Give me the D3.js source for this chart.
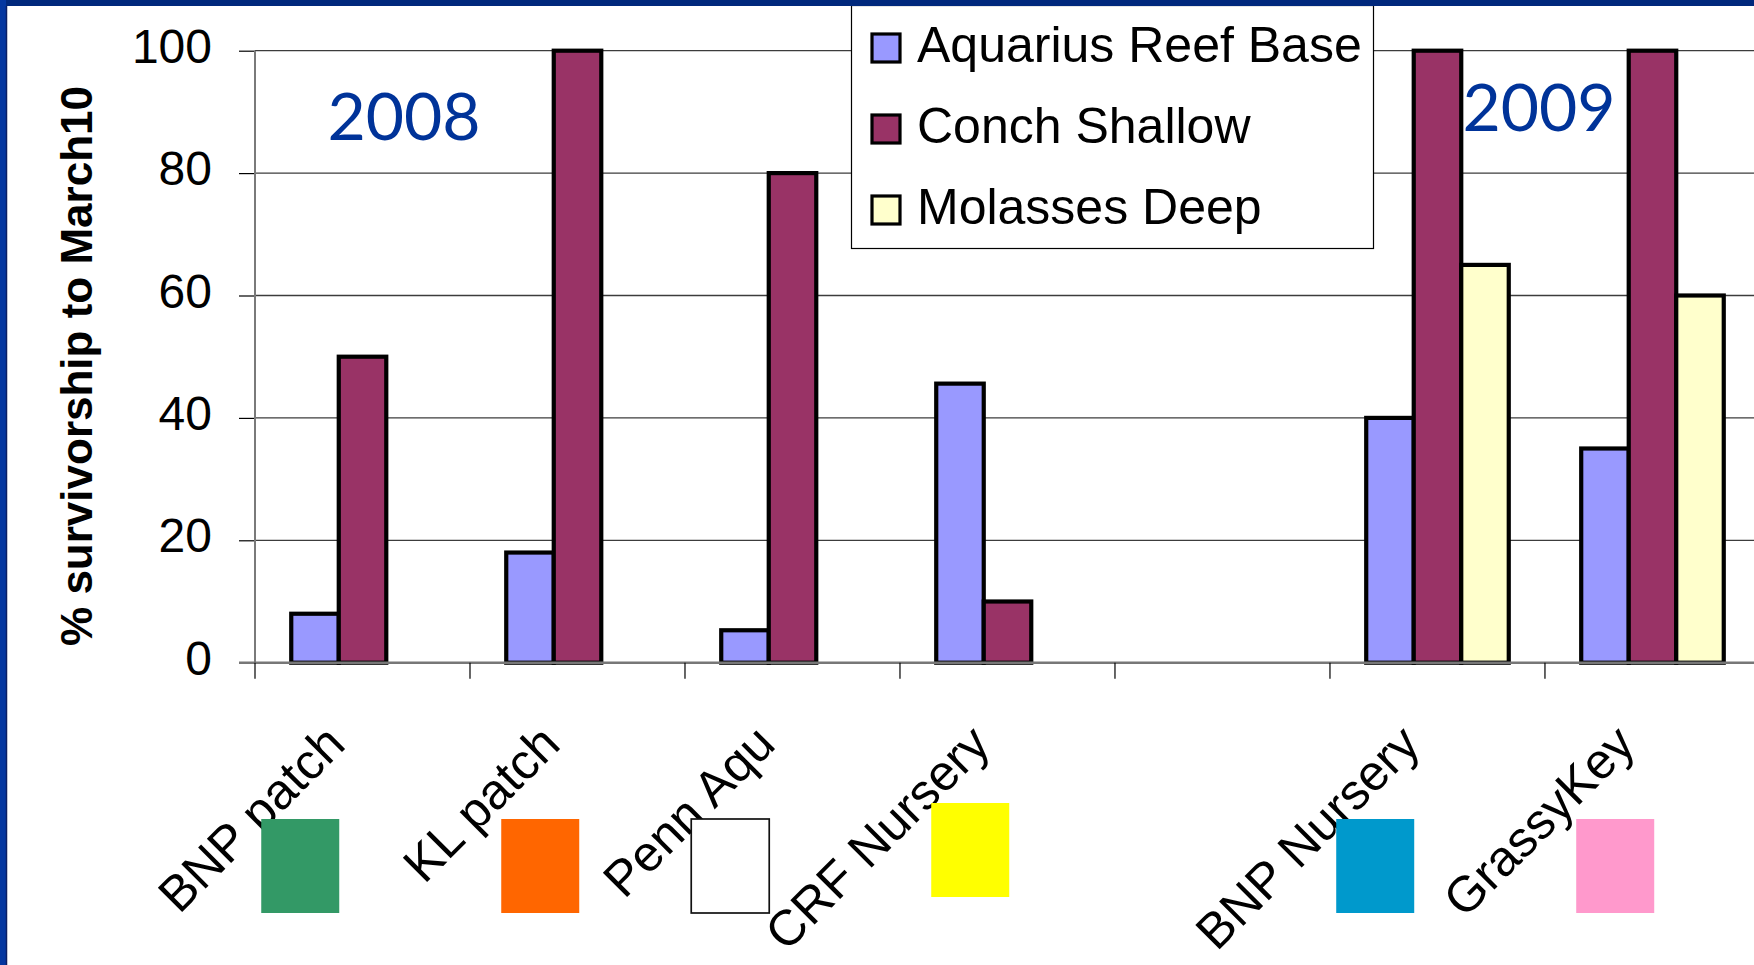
<!DOCTYPE html>
<html>
<head>
<meta charset="utf-8">
<script src="https://cdn.jsdelivr.net/npm/d3@7"></script>
<style>
  html, body { margin: 0; padding: 0; background: #fff; }
  svg { display: block; }
</style>
</head>
<body>
<svg id="chart" width="1754" height="965"></svg>
<script>
// ---- data ----
const sites = ["BNP patch", "KL patch", "Penn Aqu", "CRF Nursery", "", "BNP Nursery", "GrassyKey"];
const seriesNames = ["Aquarius Reef Base", "Conch Shallow", "Molasses Deep"];
const aquariusReefBase = [8, 18, 5.3, 45.6, null, 40, 35];
const conchShallow = [50, 100, 80, 10, null, 100, 100];
const molassesDeep = [null, null, null, null, null, 65, 60];
const yTicks = [0, 20, 40, 60, 80, 100];
const yearLabels = ["2008", "2009"];
const siteSwatchColors = ["#339966", "#FF6600", "#FFFFFF", "#FFFF00", null, "#0099CC", "#FF99CC"];

// ---- styling ----
const seriesColors = ["#9999FF", "#993366", "#FFFFCC"];
const FONT = "'Liberation Sans', Arial, Helvetica, sans-serif";
const W = 1754, H = 965;
const plot = { left: 255, right: 1760, top: 50.7, bottom: 662.7 };

const svg = d3.select("#chart");
svg.append("rect").attr("width", W).attr("height", H).attr("fill", "#fff");

const seriesValues = [aquariusReefBase, conchShallow, molassesDeep];

const x0 = d3.scaleBand()
  .domain(sites)
  .range([plot.left, plot.right])
  .paddingInner(0.337)
  .paddingOuter(0.1686);

const x1 = d3.scaleBand()
  .domain(seriesNames)
  .range([0, x0.bandwidth()]);

const y = d3.scaleLinear().domain([0, 100]).range([plot.bottom, plot.top]);

// horizontal gridlines
svg.append("g")
  .selectAll("line")
  .data(yTicks.filter(t => t > 0))
  .join("line")
  .attr("x1", plot.left).attr("x2", W)
  .attr("y1", d => y(d)).attr("y2", d => y(d))
  .attr("stroke", "#3c3c3c")
  .attr("stroke-width", 1.3);

// bars
const barData = [];
sites.forEach((site, i) => {
  seriesNames.forEach((name, j) => {
    const v = seriesValues[j][i];
    if (v != null) barData.push({ site, name, value: v, color: seriesColors[j] });
  });
});

svg.append("g")
  .selectAll("rect")
  .data(barData)
  .join("rect")
  .attr("x", d => x0(d.site) + x1(d.name))
  .attr("y", d => y(d.value))
  .attr("width", x1.bandwidth())
  .attr("height", d => y(0) - y(d.value))
  .attr("fill", d => d.color)
  .attr("stroke", "#000")
  .attr("stroke-width", 4.2);

// value axis
const yAxis = svg.append("g")
  .attr("transform", `translate(${plot.left},0)`)
  .call(d3.axisLeft(y).tickValues(yTicks).tickSize(16).tickPadding(27));
yAxis.select(".domain").remove();
yAxis.selectAll(".tick line").attr("stroke", "#000").attr("stroke-width", 1.2);
yAxis.selectAll(".tick text")
  .attr("font-family", FONT)
  .attr("font-size", 48)
  .attr("fill", "#000")
  .attr("dy", "0.24em");

svg.append("line")
  .attr("x1", plot.left).attr("x2", plot.left)
  .attr("y1", y(100)).attr("y2", y(0))
  .attr("stroke", "#7a7a7a").attr("stroke-width", 2);

// category axis: baseline and boundary ticks
svg.append("line")
  .attr("x1", plot.left - 16).attr("x2", W)
  .attr("y1", y(0)).attr("y2", y(0))
  .attr("stroke", "#777").attr("stroke-width", 2.5);

const boundaries = d3.range(sites.length + 1).map(i => x0.range()[0] + i * x0.step());
svg.append("g")
  .selectAll("line")
  .data(boundaries)
  .join("line")
  .attr("x1", d => d).attr("x2", d => d)
  .attr("y1", y(0)).attr("y2", y(0) + 16)
  .attr("stroke", "#000").attr("stroke-width", 1.2);

// rotated category labels
svg.append("g")
  .selectAll("text")
  .data(sites.filter(s => s !== ""))
  .join("text")
  .attr("transform", d => `translate(${x0(d) + x0.bandwidth() / 2 - 15},${y(0) + 84}) rotate(-45)`)
  .attr("text-anchor", "end")
  .attr("font-family", FONT)
  .attr("font-size", 50)
  .attr("fill", "#000")
  .text(d => d);

// site colour keys beneath the labels
const swatchData = sites
  .map((s, i) => ({ site: s, color: siteSwatchColors[i] }))
  .filter(d => d.color);
const swatchLift = [0, 0, 0, 16, 0, 0];
svg.append("g")
  .selectAll("rect")
  .data(swatchData)
  .join("rect")
  .attr("x", (d, k) => x0(d.site) - (k % 2 === 0 ? 30 : 5))
  .attr("y", (d, k) => 819 - swatchLift[k])
  .attr("width", 78)
  .attr("height", 94)
  .attr("fill", d => d.color)
  .attr("stroke", d => d.color === "#FFFFFF" ? "#111" : "none")
  .attr("stroke-width", 1.7);

// value axis title
svg.append("text")
  .attr("transform", "translate(92,366) rotate(-90)")
  .attr("text-anchor", "middle")
  .attr("font-family", FONT)
  .attr("font-weight", "bold")
  .attr("font-size", 44)
  .attr("fill", "#000")
  .text("% survivorship to March10");

// year annotations
const yearPos = [[404, 140], [1539, 131]];
svg.append("g")
  .selectAll("text")
  .data(yearLabels)
  .join("text")
  .attr("x", (d, i) => yearPos[i][0])
  .attr("y", (d, i) => yearPos[i][1])
  .attr("text-anchor", "middle")
  .attr("font-family", "Lato, 'Open Sans', sans-serif")
  .attr("font-size", 66)
  .attr("fill", "#003399")
  .text(d => d);

// legend
const legend = svg.append("g");
legend.append("rect")
  .attr("x", 851.5).attr("y", 5.5)
  .attr("width", 522).attr("height", 243)
  .attr("fill", "#fff")
  .attr("stroke", "#000")
  .attr("stroke-width", 1.2);
const items = legend.selectAll("g.item")
  .data(seriesNames)
  .join("g")
  .attr("class", "item")
  .attr("transform", (d, i) => `translate(0,${i * 81})`);
items.append("rect")
  .attr("x", 872).attr("y", 34)
  .attr("width", 28).attr("height", 28)
  .attr("fill", (d, i) => seriesColors[i])
  .attr("stroke", "#000")
  .attr("stroke-width", 3.2);
items.append("text")
  .attr("x", 917).attr("y", 62)
  .attr("font-family", FONT)
  .attr("font-size", 50)
  .attr("fill", "#000")
  .text(d => d);

// slide frame
svg.append("rect").attr("x", 0).attr("y", 0).attr("width", W).attr("height", 6).attr("fill", "#00287C");
svg.append("rect").attr("x", 0).attr("y", 0).attr("width", 6).attr("height", H).attr("fill", "#0437A0");
svg.append("line").attr("x1", 6.5).attr("x2", 6.5).attr("y1", 6).attr("y2", H)
  .attr("stroke", "#0B1F63").attr("stroke-width", 1.5);
</script>
</body>
</html>
